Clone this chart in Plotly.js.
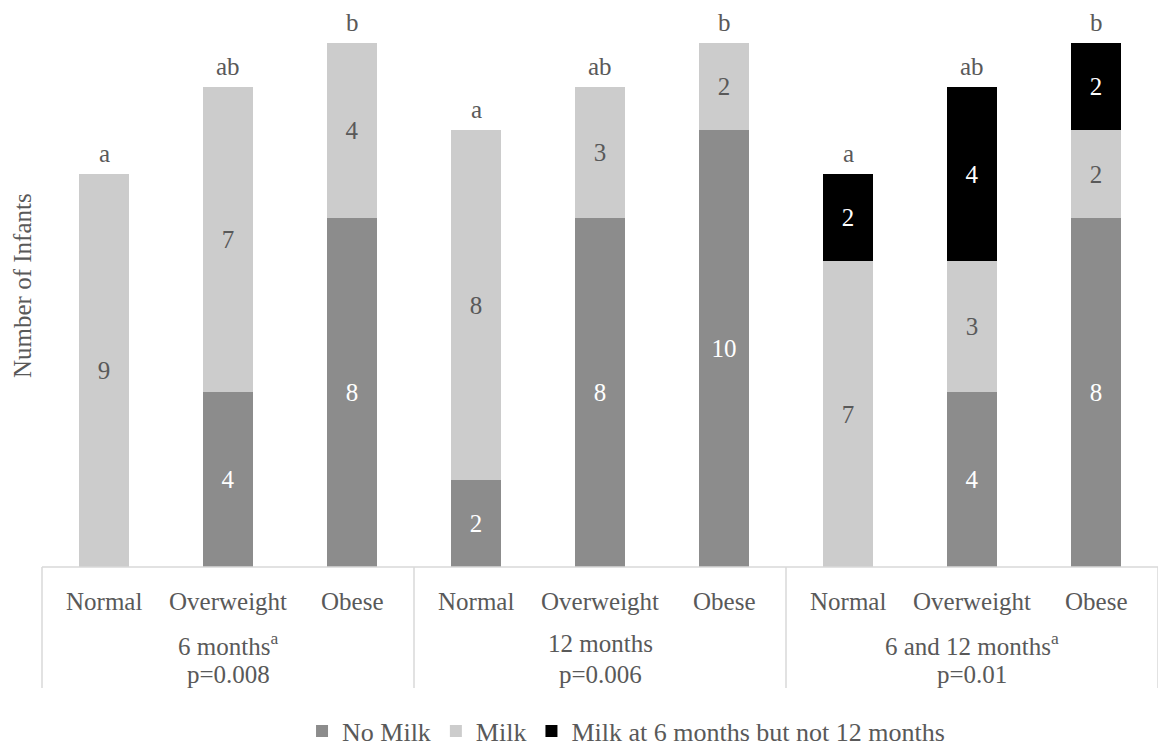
<!DOCTYPE html>
<html>
<head>
<meta charset="utf-8">
<script src="https://cdn.plot.ly/plotly-3.0.1.min.js"></script>
<style>html,body{margin:0;padding:0;background:#fff;}#chart{width:1158px;height:747px;}</style>
</head>
<body>
<div id="chart"></div>
<script>
const groups = ['6 months<sup>a</sup>', '12 months', '6 and 12 months<sup>a</sup>'];
const pValues = ['p=0.008', 'p=0.006', 'p=0.01'];
const weightClasses = ['Normal', 'Overweight', 'Obese'];
const noMilk = [0, 4, 8, 2, 8, 10, 0, 4, 8];
const milk = [9, 7, 4, 8, 3, 2, 7, 3, 2];
const milk6not12 = [0, 0, 0, 0, 0, 0, 2, 4, 2];
const letters = ['a', 'ab', 'b', 'a', 'ab', 'b', 'a', 'ab', 'b'];
const seriesNames = ['No Milk', 'Milk', 'Milk at 6 months but not 12 months'];

const FONT = 'Liberation Serif';
const TXT = '#595959';
const keys = [];
const catLabels = [];
groups.forEach((g, gi) => weightClasses.forEach(w => { keys.push(gi + '|' + w); catLabels.push(w); }));

function lbl(arr) { return arr.map(v => v === 0 ? '' : String(v)); }

function trace(name, vals, color, tcolor) {
  return {
    type: 'bar', name: name, x: keys, y: vals,
    text: lbl(vals), textposition: 'inside', insidetextanchor: 'middle',
    textfont: {family: FONT, size: 25, color: tcolor},
    constraintext: 'none', cliponaxis: false,
    marker: {color: color, line: {width: 0}},
    hoverinfo: 'skip'
  };
}

const data = [
  trace(seriesNames[0], noMilk, '#8c8c8c', '#ffffff'),
  trace(seriesNames[1], milk, '#cccccc', TXT),
  trace(seriesNames[2], milk6not12, '#000000', '#ffffff')
];

const totals = keys.map((k, i) => noMilk[i] + milk[i] + milk6not12[i]);
const annotations = [];
keys.forEach((k, i) => {
  annotations.push({x: k, y: totals[i], xref: 'x', yref: 'y', text: letters[i], showarrow: false,
    yanchor: 'bottom', yshift: 5, font: {family: FONT, size: 25, color: TXT}});
  annotations.push({x: k, y: -0.065, xref: 'x', yref: 'paper', text: catLabels[i], showarrow: false,
    yanchor: 'middle', font: {family: FONT, size: 25, color: TXT}});
});
groups.forEach((g, gi) => {
  const mid = keys[gi * 3 + 1];
  annotations.push({x: mid, y: -0.146, xref: 'x', yref: 'paper', text: g, showarrow: false,
    yanchor: 'middle', font: {family: FONT, size: 25, color: TXT}});
  annotations.push({x: mid, y: -0.205, xref: 'x', yref: 'paper', text: pValues[gi], showarrow: false,
    yanchor: 'middle', font: {family: FONT, size: 25, color: TXT}});
});
annotations.push({x: -0.018, y: 0.538, xref: 'paper', yref: 'paper', text: 'Number of Infants', textangle: -90,
  showarrow: false, xanchor: 'center', yanchor: 'middle', font: {family: FONT, size: 25, color: TXT}});

const shapes = [{type: 'line', xref: 'paper', yref: 'paper', x0: 0, x1: 1, y0: 0, y1: 0, line: {color: '#d9d9d9', width: 1.5}}];
[0, 1/3, 2/3, 1].forEach(px => shapes.push({type: 'line', xref: 'paper', yref: 'paper', x0: px, x1: px, y0: 0, y1: -0.231,
  line: {color: '#d9d9d9', width: 1.5}}));

const layout = {
  width: 1158, height: 747,
  margin: {l: 42, r: 0, t: 43, b: 180, autoexpand: false},
  paper_bgcolor: '#ffffff', plot_bgcolor: '#ffffff',
  barmode: 'stack', bargap: 0.597,
  font: {family: FONT, size: 25, color: TXT},
  xaxis: {type: 'category', showticklabels: false, showgrid: false, zeroline: false, showline: false, ticks: '', fixedrange: true},
  yaxis: {range: [0, 12], showticklabels: false, showgrid: false, zeroline: false, showline: false, ticks: '', fixedrange: true},
  showlegend: true,
  legend: {orientation: 'h', x: 0.233, xanchor: 'left', y: -0.313, yanchor: 'middle', font: {family: FONT, size: 26, color: TXT},
    traceorder: 'normal', bgcolor: 'rgba(0,0,0,0)'},
  annotations: annotations, shapes: shapes
};

Plotly.newPlot('chart', data, layout, {displayModeBar: false, staticPlot: true});
</script>
</body>
</html>
